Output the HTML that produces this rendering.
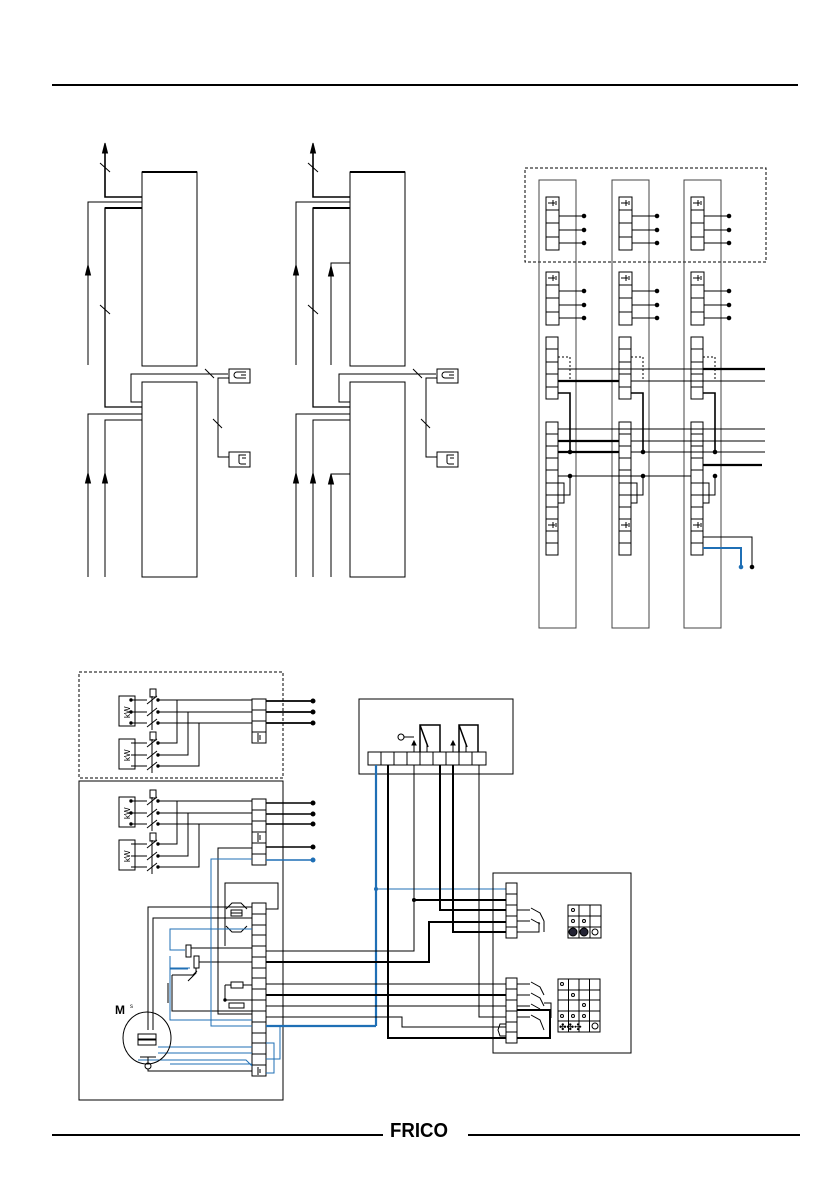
<!DOCTYPE html>
<html><head><meta charset="utf-8"><style>
html,body{margin:0;padding:0;background:#fff;}
svg{display:block;}
</style></head><body>
<svg width="839" height="1191" viewBox="0 0 839 1191" xmlns="http://www.w3.org/2000/svg" fill="none" stroke="#000" stroke-width="1" font-family="Liberation Sans, sans-serif">
<!-- header / footer -->
<line x1="52" y1="85" x2="798" y2="85" stroke-width="2"/>
<line x1="52" y1="1135" x2="383" y2="1135" stroke-width="2"/>
<line x1="468" y1="1135" x2="800" y2="1135" stroke-width="2"/>
<text x="390" y="1137" font-size="20" font-weight="bold" fill="#000" stroke="none" textLength="58" lengthAdjust="spacingAndGlyphs">FRICO</text>

<!-- ===== top-left diagrams ===== -->
<g id="tl">
<rect x="142" y="172" width="55" height="194"/>
<line x1="142" y1="172" x2="197" y2="172" stroke-width="2"/>
<rect x="142" y="382" width="55" height="195"/>
<polyline points="105,147 105,197 142,197" stroke-width="1.6"/>
<polygon points="105,143 102.5,153 107.5,153" fill="#000"/>
<line x1="100" y1="163" x2="110" y2="172"/>
<polyline points="88,365 88,202 142,202"/>
<polygon points="88,265 85.5,275 90.5,275" fill="#000"/>
<polyline points="142,208 105,208 105,407 142,407" stroke-width="1.3"/>
<line x1="142" y1="208" x2="105" y2="208" stroke-width="2"/>
<line x1="100" y1="305" x2="110" y2="314"/>
<polyline points="142,402 131,402 131,374 228,374"/>
<line x1="205" y1="369" x2="214" y2="378"/>
<rect x="229" y="369" width="21" height="14"/>
<path d="M246,372 h-9 a3,3 0 0 0 0,6 h9 M241,375 h5"/>
<polyline points="229,378 218,378 218,457 229,457"/>
<line x1="213" y1="419" x2="222" y2="428"/>
<rect x="229" y="452" width="21" height="15"/>
<path d="M246,455 h-7 v7 a2,2 0 0 0 2,2 h5 M246,458 h-4"/>
<polyline points="88,577 88,414 142,414"/>
<polyline points="105,577 105,420 142,420"/>
<polygon points="88,473 85.5,483 90.5,483" fill="#000"/>
<polygon points="105,473 102.5,483 107.5,483" fill="#000"/>
</g>
<use href="#tl" x="208"/>
<polyline points="331,365 331,263 350,263"/>
<polygon points="331,266 328.5,276 333.5,276" fill="#000"/>
<polyline points="331,577 331,474 350,474"/>
<polygon points="331,474 328.5,484 333.5,484" fill="#000"/>

<!-- ===== top-right columns ===== -->
<rect x="525" y="168" width="241" height="94" stroke-dasharray="3,2"/>
<g id="col">
<rect x="539" y="180" width="37" height="448" stroke="#444"/>
<rect x="546" y="197" width="13" height="53"/>
<path d="M546,210h13M546,223h13M546,237h13"/>
<path d="M548,203h7M553,200v6M556,201v4" />
<path d="M559,216h25M559,230h25M559,243h25"/>
<circle cx="584" cy="216" r="1.8" fill="#000"/><circle cx="584" cy="230" r="1.8" fill="#000"/><circle cx="584" cy="243" r="1.8" fill="#000"/>
<rect x="546" y="272" width="13" height="53"/>
<path d="M546,285h13M546,298h13M546,312h13"/>
<path d="M548,278h7M553,275v6M556,276v4"/>
<path d="M559,291h25M559,305h25M559,318h25"/>
<circle cx="584" cy="291" r="1.8" fill="#000"/><circle cx="584" cy="305" r="1.8" fill="#000"/><circle cx="584" cy="318" r="1.8" fill="#000"/>
<rect x="546" y="337" width="12" height="62"/>
<path d="M546,349h12M546,362h12M546,374h12M546,387h12"/>
<path d="M558,357h12v24" stroke-dasharray="2,2"/>
<polyline points="558,393 570,393 570,452" stroke-width="1.6"/>
<rect x="546" y="422" width="12" height="133"/>
<path d="M546,434h12M546,446h12M546,458h12M546,470h12M546,483h12M546,495h12M546,507h12M546,519h12M546,531h12M546,543h12"/>
<path d="M548,525h7M553,522v6M556,523v4"/>
<path d="M558,483h6v20h-6M558,495h12v-19"/>
<circle cx="570" cy="452" r="1.8" fill="#000"/>
<circle cx="570" cy="476" r="1.8" fill="#000"/>
</g>
<use href="#col" x="73"/>
<use href="#col" x="145"/>
<path d="M558,369H765M558,429H765M558,476H691"/>
<path d="M558,381H619" stroke-width="2.2"/><path d="M631,381H765"/>
<path d="M558,441H619" stroke-width="2.2"/><path d="M631,441H765"/>
<path d="M558,452H619" stroke-width="2.2"/><path d="M631,452H765"/>
<path d="M703,369H765" stroke-width="2.2"/>
<path d="M703,465H762" stroke-width="2.2"/>
<path d="M703,537H752V567"/>
<polyline points="703,548 741,548 741,567" stroke="#1f6fb5" stroke-width="2"/>
<circle cx="741" cy="567" r="1.8" fill="#1f6fb5" stroke="#1f6fb5"/>
<circle cx="752" cy="567" r="1.8" fill="#000"/>

<!-- ===== bottom left ===== -->
<rect x="79" y="672" width="204" height="106" stroke-dasharray="3,2"/>
<rect x="79" y="781" width="204" height="319"/>
<g id="kw">
<rect x="119" y="696" width="16" height="30"/>
<text x="0" y="0" font-size="8" fill="#000" stroke="none" transform="translate(130,718) rotate(-90)">kW</text>
<path d="M131,700h16M131,712h16M131,723h16"/>
<path d="M147,704l10,-8M147,716l10,-8M147,727l10,-8M152,696v34"/>
<rect x="150" y="689" width="6" height="8"/>
<circle cx="131" cy="700" r="1.2" fill="#000"/><circle cx="131" cy="712" r="1.2" fill="#000"/><circle cx="131" cy="723" r="1.2" fill="#000"/>
<circle cx="158" cy="700" r="1.2" fill="#000"/><circle cx="158" cy="712" r="1.2" fill="#000"/><circle cx="158" cy="723" r="1.2" fill="#000"/>
<g transform="translate(0,43)">
<rect x="119" y="696" width="16" height="30"/>
<text x="0" y="0" font-size="8" fill="#000" stroke="none" transform="translate(130,718) rotate(-90)">kW</text>
<path d="M131,700h16M131,712h16M131,723h16"/>
<path d="M147,704l10,-8M147,716l10,-8M147,727l10,-8M152,696v34"/>
<rect x="150" y="689" width="6" height="8"/>
<circle cx="158" cy="700" r="1.2" fill="#000"/><circle cx="158" cy="712" r="1.2" fill="#000"/><circle cx="158" cy="723" r="1.2" fill="#000"/>
</g>
<path d="M158,700H252M158,712H252M158,723H252"/>
<path d="M158,743H177V700M158,755H188V712M158,766H199V723"/>
</g>
<use href="#kw" x="0" y="101"/>
<rect x="252" y="699" width="14" height="44"/>
<path d="M252,710h14M252,721h14M252,732h14M258,733v9M260,735v5"/>
<path d="M266,701H313M266,712H313M266,723H313" stroke-width="1.8"/>
<circle cx="313" cy="701" r="2" fill="#000"/><circle cx="313" cy="712" r="2" fill="#000"/><circle cx="313" cy="723" r="2" fill="#000"/>
<rect x="252" y="799" width="14" height="66"/>
<path d="M252,810h14M252,821h14M252,832h14M252,843h14M252,854h14M258,833v9M260,835v5"/>
<path d="M266,803H313M266,814H313M266,824H313M266,847H313" stroke-width="1.5"/>
<circle cx="313" cy="803" r="2" fill="#000"/><circle cx="313" cy="814" r="2" fill="#000"/><circle cx="313" cy="824" r="2" fill="#000"/><circle cx="313" cy="847" r="2" fill="#000"/>
<path d="M266,860H313" stroke="#1f6fb5" stroke-width="1.5"/>
<circle cx="313" cy="860" r="2" fill="#1f6fb5" stroke="#1f6fb5"/>

<!-- main terminal strip -->
<rect x="252" y="903" width="14" height="173"/>
<path d="M252,914h14M252,925h14M252,935h14M252,946h14M252,957h14M252,968h14M252,978h14M252,989h14M252,1000h14M252,1011h14M252,1022h14M252,1033h14M252,1043h14M252,1054h14M252,1065h14"/>
<path d="M258,1067v8M260,1069v4"/>
<!-- internal wiring -->
<path d="M225,946V883H278V909H266"/>
<path d="M252,848H218V1014H252"/>
<path d="M148,1030V907H252"/>
<path d="M153,1030V918H252"/>
<path d="M226,909l6,-6h9l6,6M226,926l6,6h9l6,-6"/>
<rect x="231" y="910" width="11" height="6" fill="#fff"/><line x1="231" y1="913" x2="242" y2="913"/>
<path d="M172,975V1011H252"/>
<path d="M172,975H193l4,-4"/>
<path d="M225,985H252M225,985V1000H252" />
<rect x="231" y="982" width="12" height="6" fill="#fff"/>
<rect x="229" y="1003" width="15" height="5" fill="#fff"/>
<circle cx="225" cy="1000" r="1.2" fill="#000"/>
<path d="M189,948H252M196,962H252"/>
<rect x="186" y="945" width="5" height="12" fill="#fff"/>
<rect x="194" y="956" width="5" height="12" fill="#fff"/>
<path d="M196,968v5l-8,8"/>
<path d="M168,983v20"/>
<g stroke="#1f6fb5">
<path d="M252,859H211V1026H252"/>
<path d="M252,929H170V950H185M170,956v13h18"/>
<path d="M190,968H170V1020H252"/>
<path d="M266,1026H280V1059H266M266,1043H274V1073H266"/>
<path d="M158,1047H252M158,1053H252M138,1060H246l6,6M170,1064H252"/>
</g>
<path d="M266,1026H376" stroke="#1f6fb5" stroke-width="2.2"/>
<!-- motor -->
<ellipse cx="147" cy="1038" rx="24" ry="26"/>
<text x="115" y="1014" font-size="12" font-weight="bold" fill="#000" stroke="none">M</text>
<text x="130" y="1008" font-size="6" fill="#000" stroke="none">s</text>
<rect x="138" y="1034" width="18" height="5" fill="#fff"/><rect x="138" y="1040" width="18" height="5" fill="#fff"/>
<path d="M140,1057h16M148,1057v6"/><circle cx="148" cy="1066" r="3"/>
<path d="M148,1069V1071H252"/>

<!-- controller box -->
<rect x="359" y="699" width="154" height="75"/>
<rect x="368" y="752" width="118" height="13"/>
<path d="M381,752v13M394,752v13M407,752v13M420,752v13M433,752v13M446,752v13M459,752v13M472,752v13"/>
<path d="M420,752V725H440V752M420,725l8,22M459,752V725H478V752M459,725l8,22" stroke-width="1.5"/>
<path d="M414,752v-8M427,752v-8M453,752v-8M466,752v-8"/>
<path d="M414,741l-2,4h4z M453,741l-2,4h4z" fill="#000"/>
<path d="M414,737h-10a3,3 0 1 0 0,.1"/>
<!-- long wires -->
<path d="M376,765V1026" stroke="#1f6fb5" stroke-width="2.2"/>
<circle cx="376" cy="889" r="1.5" fill="#1f6fb5" stroke="#1f6fb5"/>
<path d="M376,889H506" stroke="#1f6fb5"/>
<path d="M388,765V1038H550V1010H517" stroke-width="2"/>
<path d="M414,765V951H266"/>
<path d="M414,900H506" stroke-width="2"/>
<circle cx="414" cy="900" r="1.5" fill="#000"/>
<path d="M440,765V910H506" stroke-width="2"/>
<path d="M453,765V932H506" stroke-width="2"/>
<path d="M479,765V1017H506"/>
<path d="M266,962H429V922H506" stroke-width="2"/>
<path d="M266,984H506M266,1006H506M266,1017H402V1027H506"/>
<path d="M266,995H506" stroke-width="2"/>
<!-- right box -->
<rect x="493" y="873" width="138" height="180"/>
<rect x="506" y="883" width="11" height="55" fill="#fff"/>
<path d="M506,894h11M506,905h11M506,916h11M506,927h11"/>
<path d="M517,910h13M517,921h13M517,932h22V922"/>
<path d="M531,908l9,5l4,8M531,919l9,5M544,921v11"/>
<rect x="506" y="978" width="11" height="65" fill="#fff"/>
<path d="M506,989h11M506,1000h11M506,1011h11M506,1022h11M506,1032h11"/>
<path d="M517,984h13M517,995h13M517,1006h13M517,1017h13"/>
<path d="M531,982l9,5l4,8M531,993l9,5l4,8M531,1004l9,5M531,1015l9,5l4,10"/>
<path d="M544,1003h7v15M550,1032V1010"/>
<path d="M506,1036h-6l-2,-6 2,-6h6"/>
<!-- grids -->
<rect x="568" y="905" width="33" height="33"/>
<path d="M579,905v33M590,905v33M568,916h33M568,927h33"/>
<circle cx="573" cy="932" r="4" fill="#223"/>
<circle cx="584" cy="932" r="4" fill="#223"/>
<circle cx="595" cy="932" r="3"/>
<circle cx="573" cy="910" r="1.5"/><circle cx="573" cy="921" r="1.5"/><circle cx="584" cy="921" r="1.5"/>
<rect x="558" y="979" width="42" height="53"/>
<path d="M568.5,979v53M579,979v53M589.5,979v53M558,990h42M558,1000h42M558,1011h42M558,1021h42"/>
<circle cx="562" cy="984" r="1.5"/><circle cx="573" cy="995" r="1.5"/><circle cx="584" cy="1005" r="1.5"/>
<circle cx="562" cy="1016" r="1.5"/><circle cx="573" cy="1016" r="1.5"/><circle cx="584" cy="1016" r="1.5"/>
<text x="559" y="1030" font-size="9" fill="#000" stroke="none">✤✤✣</text>
<circle cx="595" cy="1026" r="3"/>
</svg>
</body></html>
